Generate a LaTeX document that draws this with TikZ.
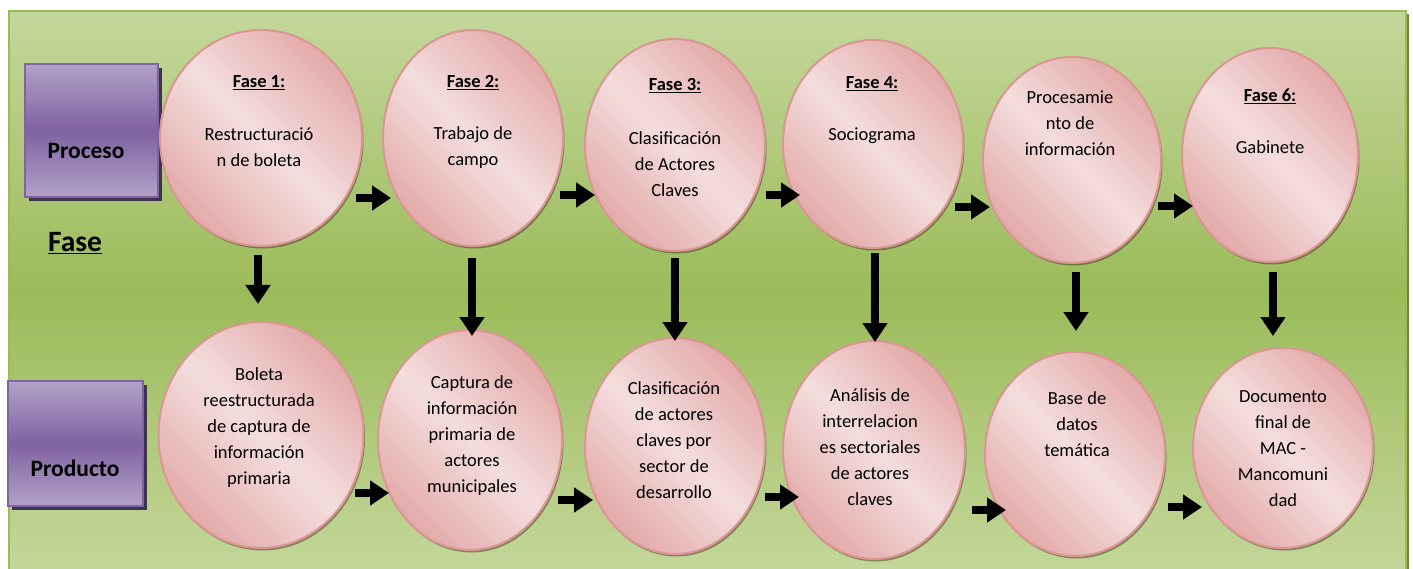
\documentclass[tikz,border=0pt]{standalone}
\usepackage{fontspec}
\setmainfont{Carlito}
\usetikzlibrary{shapes.geometric,arrows.meta,shadows}
\definecolor{bglight}{HTML}{C4D79B}
\definecolor{bgdark}{HTML}{9BBB59}
\definecolor{bgborder}{HTML}{9BBB59}
\definecolor{bgshadow}{HTML}{6E8B36}
\definecolor{pinklight}{HTML}{F3DEDD}
\definecolor{pinkdark}{HTML}{E3AAA9}
\definecolor{pinkborder}{HTML}{D99694}
\definecolor{purplelight}{HTML}{B2A1C7}
\definecolor{purpledark}{HTML}{7F62A1}
\definecolor{purpleborder}{HTML}{8064A2}
\definecolor{purpleshadow}{HTML}{3F3151}
\begin{document}
\begin{tikzpicture}[x=1pt,y=-1pt,
  bgbox/.style={draw=bgborder,line width=2pt,top color=bglight,bottom color=bglight,middle color=bgdark,inner sep=0pt},
  pinkell/.style={ellipse,draw=pinkborder,line width=2pt,top color=pinkdark,bottom color=pinkdark,middle color=pinklight,shading angle=-45,inner sep=0pt,
    drop shadow={shadow xshift=1.5pt,shadow yshift=-2.5pt,opacity=0.45,fill=black!70!brown}},
  purplebox/.style={draw=purpleborder,line width=1.5pt,top color=purplelight,bottom color=purplelight,middle color=purpledark,inner sep=0pt,
    drop shadow={shadow xshift=4pt,shadow yshift=-4pt,opacity=1,fill=purpleshadow}},
  hdr/.style={font=\fontsize{18.5}{26}\selectfont\bfseries,inner sep=0pt},
  body/.style={font=\fontsize{18.5}{26}\selectfont,align=center,inner sep=0pt},
  lbl/.style={font=\fontsize{23.5}{28}\selectfont\bfseries,inner sep=0pt},
  blk/.style={line width=8pt,-{Triangle[width=24pt,length=19pt]},black}
]
\useasboundingbox (0,0) rectangle (1413,569);
\fill[bgshadow] (1402,14) rectangle (1409,575);
\node[bgbox,minimum width=1397pt,minimum height=565pt,anchor=north west] (bg) at (8,10) {};

% purple boxes
\node[purplebox,minimum width=133pt,minimum height=133pt] (proc) at (91.5,130.5) {};
\node[lbl] (proct) at (86,151) {Proceso};
\node[purplebox,minimum width=135pt,minimum height=125pt] (prod) at (75.5,443.5) {};
\node[lbl] (prodt) at (75,468) {Producto};
\node[font=\fontsize{29.5}{32}\selectfont\bfseries,inner sep=0pt] (fase) at (75,243) {\underline{Fase}};

% top ellipses
\node[pinkell,minimum width=202pt,minimum height=216pt] (p1) at (261,138) {};
\node[pinkell,minimum width=180pt,minimum height=216pt] (p2) at (473,138) {};
\node[pinkell,minimum width=180pt,minimum height=212pt] (p3) at (675,145) {};
\node[pinkell,minimum width=180pt,minimum height=208pt] (p4) at (873,144) {};
\node[pinkell,minimum width=178pt,minimum height=206pt] (p5) at (1072,160) {};
\node[pinkell,minimum width=176pt,minimum height=214pt] (p6) at (1270,155) {};

% bottom ellipses
\node[pinkell,minimum width=205pt,minimum height=226pt] (q1) at (261,435) {};
\node[pinkell,minimum width=184pt,minimum height=220pt] (q2) at (470,440) {};
\node[pinkell,minimum width=180pt,minimum height=216pt] (q3) at (675,446) {};
\node[pinkell,minimum width=182pt,minimum height=218pt] (q4) at (874,450) {};
\node[pinkell,minimum width=180pt,minimum height=204pt] (q5) at (1075,454) {};
\node[pinkell,minimum width=180pt,minimum height=200pt] (q6) at (1283,448) {};

% top texts
\node[hdr] (p1h) at (259,83) {\underline{Fase 1:}};
\node[body] (p1b) at (259,147.5) {Restructuració\\n de boleta};
\node[hdr] (p2h) at (473,83) {\underline{Fase 2:}};
\node[body] (p2b) at (473,147.5) {Trabajo de\\campo};
\node[hdr] (p3h) at (675,86) {\underline{Fase 3:}};
\node[body] (p3b) at (675,164.5) {Clasificación\\de Actores\\Claves};
\node[hdr] (p4h) at (872,84) {\underline{Fase 4:}};
\node[body] (p4b) at (872,136) {Sociograma};
\node[body] (p5b) at (1070,123.5) {Procesamie\\nto de\\información};
\node[hdr] (p6h) at (1270,96) {\underline{Fase 6:}};
\node[body] (p6b) at (1270,147) {Gabinete};

% bottom texts
\node[body] (q1b) at (259,427.5) {Boleta\\reestructurada\\de captura de\\información\\primaria};
\node[body] (q2b) at (472,435.5) {Captura de\\información\\primaria de\\actores\\municipales};
\node[body] (q3b) at (674,440) {Clasificación\\de actores\\claves por\\sector de\\desarrollo};
\node[body] (q4b) at (870,447) {Análisis de\\interrelacion\\es sectoriales\\de actores\\claves};
\node[body] (q5b) at (1077,424) {Base de\\datos\\temática};
\node[body] (q6b) at (1283,449) {Documento\\final de\\MAC -\\Mancomuni\\dad};

% horizontal arrows top
\coordinate (h1a) at (356,198); \coordinate (h1b) at (391,198);
\coordinate (h2a) at (560,195); \coordinate (h2b) at (595,195);
\coordinate (h3a) at (766,195); \coordinate (h3b) at (800,195);
\coordinate (h4a) at (955,207); \coordinate (h4b) at (990,207);
\coordinate (h5a) at (1158,206); \coordinate (h5b) at (1193,206);
% horizontal arrows bottom
\coordinate (g1a) at (355,493); \coordinate (g1b) at (389,493);
\coordinate (g2a) at (558,500); \coordinate (g2b) at (593,500);
\coordinate (g3a) at (765,497); \coordinate (g3b) at (799,497);
\coordinate (g4a) at (972,510); \coordinate (g4b) at (1006,510);
\coordinate (g5a) at (1168,507); \coordinate (g5b) at (1202,507);
% vertical arrows
\coordinate (v1a) at (258,255); \coordinate (v1b) at (258,304);
\coordinate (v2a) at (472,258); \coordinate (v2b) at (472,336);
\coordinate (v3a) at (675,258); \coordinate (v3b) at (675,341);
\coordinate (v4a) at (875,253); \coordinate (v4b) at (875,342);
\coordinate (v5a) at (1076,272); \coordinate (v5b) at (1076,331);
\coordinate (v6a) at (1273,272); \coordinate (v6b) at (1273,336);

\foreach \n in {h1,h2,h3,h4,h5,g1,g2,g3,g4,g5,v1,v2,v3,v4,v5,v6}
  \draw[blk] (\n a) -- (\n b);
\end{tikzpicture}
\end{document}
